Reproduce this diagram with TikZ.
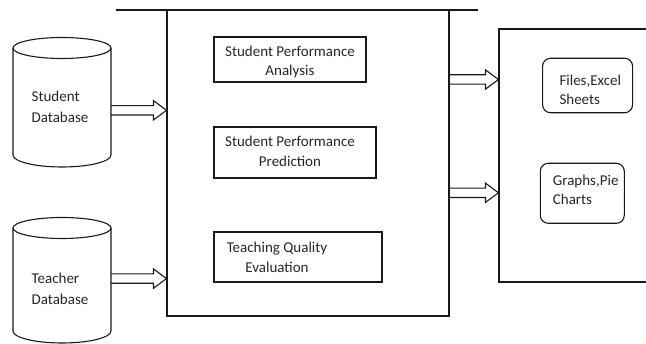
\documentclass[tikz,border=0pt]{standalone}
\usepackage{fontspec}
\setmainfont{Carlito}
\usetikzlibrary{calc}
\tikzset{
  ln/.style={line width=1.1pt, draw=black!90},
  txt/.style={font=\fontsize{15}{19.5}\selectfont, text=black!85, inner sep=0pt},
  procbox/.style={ln, rectangle, inner sep=0pt},
  outbox/.style={ln, rectangle, rounded corners=8pt, inner sep=0pt},
}
\newcommand\harrow[2]{%
  \draw[ln] let \p1=(#1), \p2=(#2) in
    (\x1,\y1+4.7pt) -- (\x2-13pt,\y1+4.7pt) -- (\x2-13pt,\y1+9.7pt) -- (\x2,\y1)
    -- (\x2-13pt,\y1-9.7pt) -- (\x2-13pt,\y1-4.7pt) -- (\x1,\y1-4.7pt);}
\begin{document}
\begin{tikzpicture}[x=1pt,y=-1pt]
\useasboundingbox (0,0) rectangle (646,344);
\clip (0,0) rectangle (646,344);

% databases (cylinders)
\draw[ln] (13,48) -- (13,155) arc[start angle=180,end angle=360,x radius=49pt,y radius=12pt] -- (111,48);
\draw[ln] (62,48) ellipse[x radius=49pt,y radius=10.5pt];
\node[txt, align=left] (sdb) at (60,106.5) {Student\\[1.5pt]Database};

\draw[ln] (13,228) -- (13,331) arc[start angle=180,end angle=360,x radius=49pt,y radius=12pt] -- (111,228);
\draw[ln] (62,228) ellipse[x radius=49pt,y radius=10.5pt];
\node[txt, align=left] (tdb) at (60,289) {Teacher\\[2pt]Database};

% main processing box
\node[procbox, minimum width=282pt, minimum height=306pt] (main) at (308,163) {};
\draw[ln] (116,10) -- (478,10);

\node[procbox, minimum width=152pt, minimum height=45pt] (spa) at (290,59.5) {};
\node[txt, align=center] (spat) at (290,62) {Student Performance\\Analysis};

\node[procbox, minimum width=162pt, minimum height=51pt] (spp) at (295,152.5) {};
\node[txt, align=center] (sppt) at (290,151.5) {Student Performance\\Prediction};

\node[procbox, minimum width=168pt, minimum height=50pt] (tqe) at (298,257) {};
\node[txt, align=center] (tqet) at (277,257.5) {Teaching Quality\\Evaluation};

% output box
\node[procbox, minimum width=200pt, minimum height=253pt] (out) at (599,155.5) {};

\node[outbox, minimum width=90pt, minimum height=54.5pt] (files) at (587.6,85.5) {};
\node[txt, align=left, anchor=west] (filest) at (559.3,89.7) {Files,Excel\\Sheets};

\node[outbox, minimum width=84pt, minimum height=60pt] (graphs) at (582.3,193.3) {};
\node[txt, align=left, anchor=west] (graphst) at (552.7,190) {Graphs,Pie\\Charts};

% connectors
\coordinate (a1) at (111,110.3);
\coordinate (a2) at (111,278.6);
\coordinate (a3) at (main.east |- 0,79.5);
\coordinate (a4) at (main.east |- 0,192.8);
\harrow{a1}{main.west}
\harrow{a2}{main.west}
\harrow{a3}{out.west}
\harrow{a4}{out.west}
\end{tikzpicture}
\end{document}
